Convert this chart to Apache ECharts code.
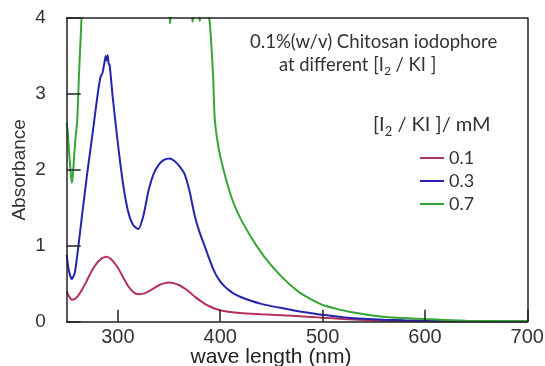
<!DOCTYPE html>
<html>
<head>
<meta charset="utf-8">
<script src="https://cdn.jsdelivr.net/npm/echarts@6/dist/echarts.min.js"></script>
<style>
html,body{margin:0;padding:0;background:#fff;}
#chart{width:545px;height:366px;}
</style>
</head>
<body>
<div id="chart"></div>
<script>
// wavelength grid (nm) shared by the 0.1 and 0.3 mM spectra
const wavelength = [250,252,255,258,261,265,270,275,280,283,285,287,288,289,290,291,292,295,300,305,310,315,320,325,330,335,340,345,350,355,360,365,370,375,380,385,390,395,400,405,410,415,420,430,440,450,460,470,480,490,500,520,540,560,580,600,630,660,700];
// absorbance, [I2/KI] = 0.1 mM
const abs01 = [0.40,0.34,0.29,0.30,0.34,0.42,0.55,0.68,0.78,0.82,0.84,0.85,0.855,0.855,0.85,0.845,0.84,0.80,0.71,0.59,0.47,0.39,0.36,0.37,0.40,0.44,0.48,0.505,0.515,0.505,0.48,0.44,0.39,0.33,0.28,0.235,0.20,0.17,0.15,0.137,0.127,0.12,0.113,0.105,0.097,0.092,0.086,0.078,0.07,0.062,0.052,0.036,0.022,0.013,0.008,0.005,0.003,0.002,0.001];
// absorbance, [I2/KI] = 0.3 mM
const abs03 = [0.88,0.68,0.56,0.65,0.95,1.40,1.95,2.45,2.97,3.22,3.28,3.42,3.50,3.44,3.51,3.40,3.38,2.95,2.35,1.82,1.45,1.27,1.22,1.40,1.73,1.95,2.07,2.13,2.15,2.12,2.05,1.95,1.72,1.40,1.17,0.99,0.80,0.64,0.53,0.455,0.40,0.355,0.325,0.275,0.235,0.205,0.18,0.155,0.13,0.11,0.09,0.06,0.038,0.025,0.018,0.013,0.007,0.004,0.002];
// wavelength grid (nm) and absorbance for [I2/KI] = 0.7 mM (saturates above 4)
const waveGreen = [250,251,252.5,254,255,256,257,258.5,260.3,262,264,265,270,300,340,350,351,352,360,372,373,374,379,380,381,388,389.5,391,393,394.5,397,400,406,412,419,429,438,448,458,468,477,488,500,526,559,600,640,700];
const abs07 = [2.62,2.50,2.20,1.95,1.83,1.92,2.13,2.40,2.65,3.25,3.85,4.05,4.05,4.05,4.05,4.05,3.93,4.05,4.05,4.05,3.95,4.05,4.05,3.96,4.05,4.05,3.97,3.72,3.25,2.70,2.40,2.18,1.86,1.60,1.38,1.14,0.95,0.77,0.62,0.49,0.39,0.30,0.22,0.13,0.066,0.035,0.013,0.005];
const seriesNames = ['0.1','0.3','0.7'];
const seriesColors = ['#b3305e','#2424ad','#35a535'];
const xTicks = [300,400,500,600,700];
const yTicks = [0,1,2,3,4];

const pairs = (xs, ys) => xs.map((x, i) => [x, ys[i]]);

const chart = echarts.init(document.getElementById('chart'), null, {renderer: 'canvas'});
const axisColor = '#222';
const labelFont = 'Liberation Sans';
const noteFont = 'Lato';

const option = {
  animation: false,
  backgroundColor: '#fff',
  grid: {left: 66.7, right: 17.7, top: 18, bottom: 44.3, containLabel: false, outerBoundsMode: 'none'},
  legend: {
    data: seriesNames,
    orient: 'vertical',
    left: 420, top: 149,
    padding: 0,
    icon: 'rect',
    itemWidth: 24, itemHeight: 2,
    itemGap: 5,
    textStyle: {fontFamily: noteFont, fontSize: 18, color: '#333', lineHeight: 18, padding: [0,0,0,0]}
  },
  xAxis: [{
    type: 'value', min: 250, max: 700, z: 10,
    name: 'wave length (nm)', nameLocation: 'middle', nameGap: 25.5, nameMoveOverlap: false,
    nameTextStyle: {fontFamily: labelFont, fontSize: 21, color: '#222', padding: [0, 52, 0, 0]},
    axisLine: {show: true, lineStyle: {color: axisColor, width: 1.5}},
    axisTick: {show: true, inside: true, length: 12, customValues: xTicks, lineStyle: {color: axisColor, width: 1.5}},
    axisLabel: {customValues: xTicks, fontFamily: labelFont, fontSize: 20, color: '#333', margin: 6},
    splitLine: {show: false}
  }, {
    type: 'value', min: 250, max: 700, position: 'top', z: 10,
    axisLine: {show: true, onZero: false, lineStyle: {color: axisColor, width: 1.5}},
    axisTick: {show: false}, axisLabel: {show: false}, splitLine: {show: false}
  }],
  yAxis: [{
    type: 'value', min: 0, max: 4, interval: 1, z: 10,
    name: 'Absorbance', nameLocation: 'middle', nameGap: 37, nameRotate: 90, nameMoveOverlap: false,
    nameTextStyle: {fontFamily: labelFont, fontSize: 19, color: '#333'},
    axisLine: {show: true, lineStyle: {color: axisColor, width: 1.5}},
    axisTick: {show: true, inside: true, length: 14, customValues: yTicks, lineStyle: {color: axisColor, width: 1.5}},
    axisLabel: {customValues: yTicks, fontFamily: labelFont, fontSize: 19, color: '#333', margin: 21},
    splitLine: {show: false}
  }, {
    type: 'value', min: 0, max: 4, position: 'right', z: 10,
    axisLine: {show: true, onZero: false, lineStyle: {color: axisColor, width: 1.5}},
    axisTick: {show: false}, axisLabel: {show: false}, splitLine: {show: false}
  }],
  graphic: [
    {type: 'text', x: 250, y: 42, z: 20,
     style: {text: '0.1%(w/v) Chitosan iodophore', font: '18.6px Lato', fill: '#333', verticalAlign: 'middle', align: 'left'}},
    {type: 'text', x: 279, y: 65, z: 20,
     style: {text: 'at different [I{sub|2} / KI ]', font: '18.4px Lato', fill: '#333', verticalAlign: 'middle', align: 'left', lineHeight: 24,
       rich: {sub: {fontSize: 12, fontFamily: 'Lato', fill: '#333', lineHeight: 12, verticalAlign: 'bottom'}}}},
    {type: 'text', x: 373, y: 125, z: 20,
     style: {text: '[I{sub|2} / KI ]/ mM', font: '20px Lato', fill: '#333', verticalAlign: 'middle', align: 'left', lineHeight: 26,
       rich: {sub: {fontSize: 13, fontFamily: 'Lato', fill: '#333', lineHeight: 13, verticalAlign: 'bottom'}}}}
  ],
  series: [
    {name: seriesNames[0], type: 'line', data: pairs(wavelength, abs01), showSymbol: false, symbol: 'none', smooth: 0.2,
     lineStyle: {color: seriesColors[0], width: 2}, itemStyle: {color: seriesColors[0]}, clip: true, z: 3},
    {name: seriesNames[1], type: 'line', data: pairs(wavelength, abs03), showSymbol: false, symbol: 'none', smooth: 0.2,
     lineStyle: {color: seriesColors[1], width: 2}, itemStyle: {color: seriesColors[1]}, clip: true, z: 4},
    {name: seriesNames[2], type: 'line', data: pairs(waveGreen, abs07), showSymbol: false, symbol: 'none', smooth: 0.15,
     lineStyle: {color: seriesColors[2], width: 2}, itemStyle: {color: seriesColors[2]}, clip: true, z: 5}
  ]
};
chart.setOption(option);
</script>
</body>
</html>
